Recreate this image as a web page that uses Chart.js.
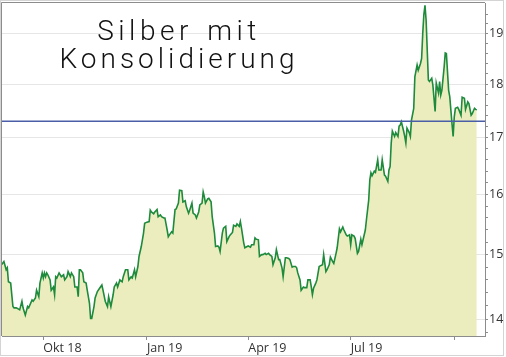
<!DOCTYPE html>
<html><head><meta charset="utf-8">
<script src="https://cdn.jsdelivr.net/npm/chart.js@4/dist/chart.umd.min.js"></script>
<style>
html,body{margin:0;padding:0;background:#fff;}
#wrap{position:relative;width:506px;height:357px;overflow:hidden;}
#c{position:absolute;left:0;top:0;}
#frame{position:absolute;left:0;top:0;width:502px;height:354px;border:1px solid #d4d4d4;pointer-events:none;}
#title{position:absolute;left:48px;width:262px;top:17px;text-align:center;font-family:Roboto,"Open Sans",sans-serif;font-weight:300;font-size:28px;line-height:28px;color:#111;}
#title .l1{letter-spacing:4.5px;word-spacing:3px;}
#title .l2{letter-spacing:4px;}
</style></head><body>
<div id="wrap"><canvas id="c" width="506" height="357"></canvas><div id="title"><span class="l1">Silber mit</span><br><span class="l2">Konsolidierung</span></div><div id="frame"></div></div>
<script>
// days since 2018-10-01
const days = [
-37,-35,-33,-32,-31,-29,-27,-26,-24,-22,
-21,-19,-18,-16,-14,-13,-10,-9,-7,-6,
-4,-3,-1,0,1,2,3,4,6,7,
9,10,11,12,14,16,18,19,21,22,
24,25,27,28,30,31,32,33,35,36,
38,39,41,42,43,45,46,48,50,52,
53,55,57,58,60,62,63,65,66,68,
70,71,73,75,76,78,79,81,82,84,
85,87,89,90,92,94,95,96,98,99,
101,102,104,105,107,108,110,111,112,114,
115,117,118,120,121,123,124,126,127,129,
130,132,133,135,136,138,139,141,142,143,
144,146,147,149,150,152,153,155,156,157,
159,160,162,163,165,166,168,169,171,172,
174,175,176,178,179,181,182,184,185,187,
188,189,191,192,194,195,197,198,200,201,
203,204,206,207,209,210,212,213,215,216,
218,219,221,222,224,225,226,228,229,231,
232,234,235,237,238,239,240,242,243,245,
246,248,249,251,252,254,255,257,258,260,
261,263,264,266,267,269,270,272,273,274,
276,277,279,280,282,283,284,286,287,289,
290,291,292,294,295,297,298,300,301,303,
304,306,307,308,309,310,312,313,315,316,
317,318,320,321,322,323,325,326,327,329,
330,332,333,335,336,337,338,339,340,341,
342,343,345,346,348,349,351,352,353,354,
356,357,358,360,361,363,364,365,366,368,
369,371,372,374,375,377,378,380,381,383,
384,385];
const prices = [
14.84,14.89,14.76,14.79,14.57,14.55,14.19,14.17,14.17,14.15,
14.14,14.27,14.17,14.06,14.19,14.17,14.29,14.27,14.32,14.44,
14.34,14.55,14.71,14.63,14.71,14.65,14.71,14.68,14.60,14.44,
14.49,14.37,14.65,14.63,14.71,14.65,14.68,14.60,14.65,14.73,
14.65,14.71,14.65,14.49,14.49,14.34,14.76,14.76,14.71,14.57,
14.55,14.44,14.24,14.01,14.01,14.19,14.32,14.42,14.47,14.52,
14.44,14.27,14.19,14.34,14.19,14.37,14.49,14.55,14.49,14.60,
14.57,14.65,14.76,14.76,14.60,14.65,14.63,14.76,14.65,14.81,
14.97,15.13,15.35,15.51,15.53,15.54,15.73,15.70,15.67,15.70,
15.74,15.62,15.65,15.62,15.60,15.60,15.40,15.29,15.32,15.37,
15.35,15.74,15.75,15.85,16.07,16.06,15.87,15.89,15.79,15.68,
15.73,15.85,15.68,15.65,15.60,15.70,15.82,15.85,16.04,15.96,
15.85,15.92,15.93,15.87,15.62,15.35,15.13,15.14,15.12,15.05,
15.35,15.43,15.46,15.21,15.29,15.32,15.36,15.48,15.46,15.50,
15.46,15.54,15.43,15.19,15.11,15.13,15.14,15.12,15.16,15.16,
15.27,15.25,15.24,14.97,15.00,15.00,15.02,15.00,15.02,15.00,
14.97,14.84,14.95,15.08,14.92,14.92,14.79,14.65,14.95,14.95,
14.94,14.92,14.80,14.81,14.81,14.79,14.71,14.60,14.44,14.49,
14.48,14.48,14.60,14.60,14.49,14.37,14.47,14.55,14.60,14.81,
14.82,14.84,15.00,14.73,14.76,14.84,14.96,14.89,14.86,15.02,
15.11,15.42,15.37,15.45,15.40,15.32,15.30,15.32,15.16,15.32,
15.30,15.26,15.02,15.05,15.25,15.16,15.24,15.40,15.57,15.90,
16.25,16.37,16.32,16.40,16.38,16.60,16.42,16.42,16.60,16.33,
16.31,16.22,16.42,16.48,16.90,17.12,17.02,17.09,17.02,17.21,
17.23,17.29,17.12,17.02,16.90,17.17,17.09,17.02,17.32,17.54,
18.14,18.37,18.27,18.40,18.50,19.00,19.39,19.58,19.27,18.66,
18.08,18.05,18.11,17.98,17.48,18.02,17.83,18.05,17.79,17.88,
18.33,18.61,18.60,17.88,17.76,17.25,17.02,17.38,17.54,17.56,
17.52,17.41,17.75,17.73,17.52,17.66,17.63,17.41,17.44,17.54,
17.52,17.51];
const supportLevel = 17.3;
const monthTicks = [0, 92, 182, 273, 365];
const monthLabels = ['Okt 18', 'Jan 19', 'Apr 19', 'Jul 19', ''];
const yLabelTicks = [14, 15, 16, 17, 18, 19];
const yMinorTicks = [13.8,14,14.2,14.4,14.6,14.8,15,15.2,15.4,15.6,15.8,16,16.2,16.4,16.6,16.8,17,17.2,17.4,17.6,17.8,18,18.2,18.4,18.6,18.8,19,19.2,19.4];
const xRange = [-36.7, 392.3];
const yRange = [13.75, 19.63];

const axisColor = '#8c8c8c';
const framePlugin = {
  id: 'frame',
  afterDraw(chart) {
    const a = chart.chartArea, ctx = chart.ctx;
    ctx.save();
    ctx.strokeStyle = axisColor; ctx.lineWidth = 1;
    ctx.beginPath();
    ctx.moveTo(a.left - 0.5, a.bottom); ctx.lineTo(a.left - 0.5, a.top - 0.5); ctx.lineTo(a.right, a.top - 0.5);
    ctx.stroke();
    ctx.restore();
  }
};

new Chart(document.getElementById('c'), {
  type: 'line',
  data: {
    datasets: [
      {
        data: [{x: xRange[0], y: supportLevel}, {x: xRange[1], y: supportLevel}],
        borderColor: '#4a5ea8', borderWidth: 1.5, pointRadius: 0, fill: false, order: 0
      },
      {
        data: days.map((d, i) => ({x: d, y: prices[i]})),
        borderColor: '#1d8a3c', borderWidth: 1.6, backgroundColor: '#ebedbf',
        pointRadius: 0, tension: 0, fill: 'start', order: 1
      }
    ]
  },
  options: {
    responsive: false, animation: false,
    layout: {padding: {left: 2, top: 3, right: 0, bottom: 0}},
    plugins: {legend: {display: false}, tooltip: {enabled: false}},
    scales: {
      x: {
        type: 'linear', min: xRange[0], max: xRange[1],
        afterBuildTicks: s => { s.ticks = monthTicks.map(v => ({value: v})); },
        afterFit: s => { s.height = 21; s.paddingLeft = 0; s.paddingRight = 0; },
        ticks: {autoSkip: false, maxRotation: 0, align: 'start', padding: 1,
          color: '#333', font: {family: 'Open Sans', size: 12.5},
          callback: (v, i) => monthLabels[i]},
        grid: {drawOnChartArea: false, tickLength: 4, tickColor: axisColor},
        border: {color: axisColor}
      },
      y: {
        type: 'logarithmic', position: 'right', min: yRange[0], max: yRange[1],
        afterBuildTicks: s => { s.ticks = yMinorTicks.map(v => ({value: v})); },
        afterFit: s => { s.width = 21; s.paddingTop = 0; s.paddingBottom = 0; },
        ticks: {autoSkip: false, padding: 1, color: '#333', font: {family: 'Open Sans', size: 12.5},
          callback: v => yLabelTicks.includes(v) ? String(v) : ''},
        grid: {tickLength: 3, tickColor: axisColor,
          color: c => (c.tick && yLabelTicks.includes(c.tick.value)) ? '#e6e6e6' : 'rgba(0,0,0,0)'},
        border: {color: axisColor}
      }
    }
  },
  plugins: [framePlugin]
});
</script>
</body></html>
